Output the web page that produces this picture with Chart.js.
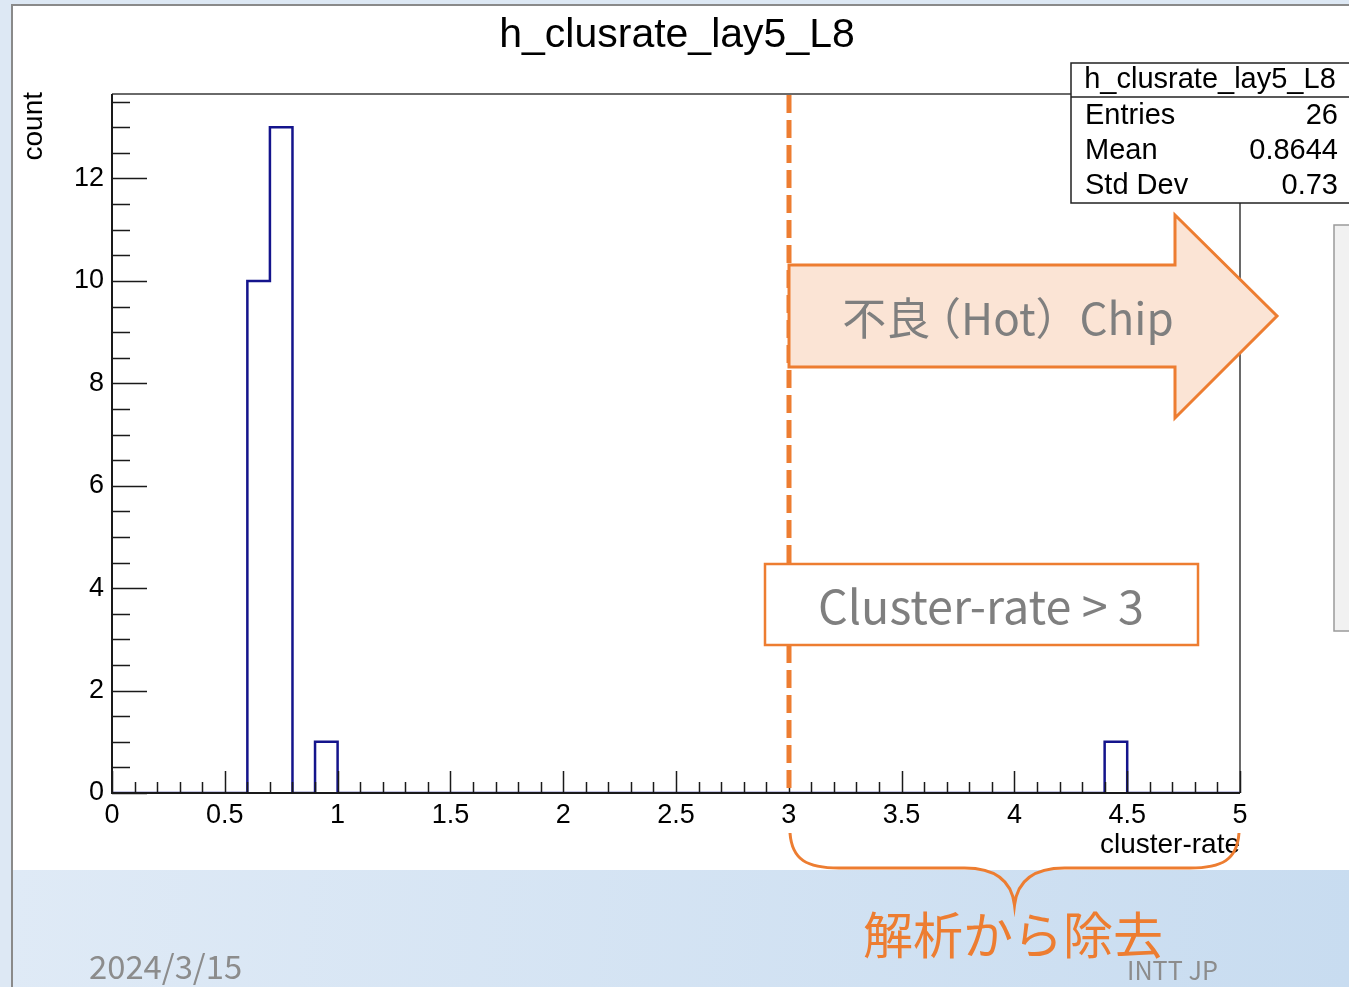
<!DOCTYPE html>
<html>
<head>
<meta charset="utf-8">
<script src="https://cdn.jsdelivr.net/npm/chart.js@4/dist/chart.umd.min.js"></script>
<style>
  html, body { margin: 0; padding: 0; width: 1349px; height: 987px; overflow: hidden; background: #dde8f4; }
  canvas { display: block; }
</style>
</head>
<body>
<canvas id="c" width="1349" height="987"></canvas>
<script>
// Histogram definition: 50 bins of width 0.1 between 0 and 5
const histName = 'h_clusrate_lay5_L8';
const xTitle = 'cluster-rate';
const yTitle = 'count';
const xRange = [0, 5];
const yRange = [0, 13.65];
const binCounts = [
  0, 0, 0, 0, 0, 0, 10, 13, 0, 1,
  0, 0, 0, 0, 0, 0, 0, 0, 0, 0,
  0, 0, 0, 0, 0, 0, 0, 0, 0, 0,
  0, 0, 0, 0, 0, 0, 0, 0, 0, 0,
  0, 0, 0, 0, 1, 0, 0, 0, 0, 0
];
// Statistics panel
const statNames = ['Entries', 'Mean', 'Std Dev'];
const statValues = ['26', '0.8644', '0.73'];
// Cut and annotation texts
const cutValue = 3;
const hotLabelParts = ['不良', '（', 'Hot）Chip'];
const cutLabel = 'Cluster-rate > 3';
const removeLabel = '解析から除去';
const dateLabel = '2024/3/15';
const footerLabel = 'INTT JP';

const ORANGE = '#ed7d31';
const ROOTFONT = '"Liberation Sans", Arial, Helvetica, sans-serif';
const JPFONT = '"Noto Sans CJK JP", "Noto Sans", sans-serif';

// Step outline points at bin edges: point i holds the content of bin i,
// drawn from its low edge to the next edge
const nBins = binCounts.length;
const binWidth = (xRange[1] - xRange[0]) / nBins;
const stepPoints = binCounts.map((c, i) => ({ x: xRange[0] + i * binWidth, y: c }));
stepPoints.push({ x: xRange[1], y: binCounts[nBins - 1] });

function fitFont(ctx, text, family, width, weight) {
  ctx.font = (weight || '') + ' 100px ' + family;
  const w = ctx.measureText(text).width;
  return 100 * width / w;
}

// Mixed Japanese/Latin label with the opening full-width bracket set tight
function drawTightLabel(ctx, parts, cx, cy, size) {
  ctx.font = size + 'px ' + JPFONT;
  const trim = 0.3 * size;
  const widths = parts.map(p => ctx.measureText(p).width);
  const total = widths.reduce((s, w) => s + w, 0) - trim;
  let x = cx - total / 2;
  ctx.textAlign = 'left';
  parts.forEach((p, i) => {
    if (p === '（') x -= trim;
    ctx.fillText(p, x, cy);
    x += widths[i];
  });
}

const slideBackground = {
  id: 'slideBackground',
  beforeDraw(chart) {
    const ctx = chart.ctx;
    ctx.save();
    ctx.fillStyle = '#dde8f4';
    ctx.fillRect(0, 0, 1349, 987);
    ctx.fillStyle = '#ffffff';
    ctx.fillRect(13, 6, 1336, 864);
    const g = ctx.createLinearGradient(13, 870, 1349, 987);
    g.addColorStop(0, '#dfeaf6');
    g.addColorStop(1, '#c8dcf0');
    ctx.fillStyle = g;
    ctx.fillRect(13, 870, 1336, 117);
    ctx.strokeStyle = '#8a8a8a';
    ctx.lineWidth = 2;
    ctx.beginPath();
    ctx.moveTo(12, 987); ctx.lineTo(12, 5); ctx.lineTo(1349, 5);
    ctx.stroke();
    // neighbouring panel at the right edge
    ctx.fillStyle = '#f1f1f1';
    ctx.fillRect(1334, 225, 30, 406);
    ctx.strokeStyle = '#9a9a9a';
    ctx.lineWidth = 1.5;
    ctx.strokeRect(1334, 225, 30, 406);
    ctx.restore();
  }
};

const rootFrame = {
  id: 'rootFrame',
  afterDatasetsDraw(chart) {
    const ctx = chart.ctx;
    const xs = chart.scales.x, ys = chart.scales.y;
    const a = chart.chartArea;
    ctx.save();
    // frame
    ctx.strokeStyle = '#3a3a3a';
    ctx.lineWidth = 1.5;
    ctx.beginPath();
    ctx.moveTo(a.left, a.top); ctx.lineTo(a.right, a.top); ctx.lineTo(a.right, a.bottom);
    ctx.stroke();
    ctx.strokeStyle = '#1a1a1a';
    ctx.lineWidth = 2;
    ctx.beginPath();
    ctx.moveTo(a.left, a.top); ctx.lineTo(a.left, a.bottom); ctx.lineTo(a.right, a.bottom);
    ctx.stroke();
    // y ticks: major every 2, minor every 0.5
    ctx.lineWidth = 1.5;
    ctx.strokeStyle = '#1a1a1a';
    ctx.beginPath();
    for (let k = 0; k * 0.5 <= yRange[1]; k++) {
      const v = k * 0.5;
      const py = Math.round(ys.getPixelForValue(v)) + 0.5;
      const len = (k % 4 === 0) ? 35 : 18;
      ctx.moveTo(a.left, py); ctx.lineTo(a.left + len, py);
    }
    // x ticks: major every 0.5, minor every 0.1
    for (let k = 0; k <= 50; k++) {
      const v = k * 0.1;
      const px = Math.round(xs.getPixelForValue(v)) + 0.5;
      const len = (k % 5 === 0) ? 22 : 11;
      ctx.moveTo(px, a.bottom); ctx.lineTo(px, a.bottom - len);
    }
    ctx.stroke();

    // histogram title
    ctx.fillStyle = '#000';
    ctx.textAlign = 'center';
    ctx.textBaseline = 'middle';
    ctx.font = '41px ' + ROOTFONT;
    ctx.fillText(histName, 677, 36);

    // axis titles
    ctx.font = '28px ' + ROOTFONT;
    ctx.textAlign = 'right';
    ctx.fillText(xTitle, a.right, 845);
    ctx.save();
    ctx.translate(34, a.top - 2);
    ctx.rotate(-Math.PI / 2);
    ctx.textAlign = 'right';
    ctx.fillText(yTitle, 0, 0);
    ctx.restore();
    ctx.restore();
  },
  afterDraw(chart) {
    const ctx = chart.ctx;
    const xs = chart.scales.x;
    const a = chart.chartArea;
    const xc = Math.round(xs.getPixelForValue(cutValue));
    const xe = xs.getPixelForValue(xRange[1]);
    ctx.save();

    // cut line
    ctx.strokeStyle = ORANGE;
    ctx.lineWidth = 5;
    ctx.setLineDash([18, 7]);
    ctx.beginPath();
    ctx.moveTo(xc, a.top + 1); ctx.lineTo(xc, a.bottom);
    ctx.stroke();
    ctx.setLineDash([]);

    // block arrow
    ctx.fillStyle = '#fbe4d5';
    ctx.strokeStyle = ORANGE;
    ctx.lineWidth = 3;
    ctx.lineJoin = 'miter';
    ctx.beginPath();
    ctx.moveTo(xc, 265);
    ctx.lineTo(1175, 265);
    ctx.lineTo(1175, 215);
    ctx.lineTo(1277, 316);
    ctx.lineTo(1175, 418);
    ctx.lineTo(1175, 367);
    ctx.lineTo(xc, 367);
    ctx.closePath();
    ctx.fill();
    ctx.stroke();
    ctx.fillStyle = '#7f7f7f';
    ctx.textBaseline = 'middle';
    drawTightLabel(ctx, hotLabelParts, 1008, 318, 44);

    // cut text box
    ctx.fillStyle = '#ffffff';
    ctx.fillRect(765, 564, 433, 81);
    ctx.strokeStyle = ORANGE;
    ctx.lineWidth = 2.5;
    ctx.strokeRect(765, 564, 433, 81);
    ctx.fillStyle = '#7f7f7f';
    ctx.textAlign = 'center';
    ctx.font = fitFont(ctx, cutLabel, JPFONT, 326).toFixed(1) + 'px ' + JPFONT;
    ctx.fillText(cutLabel, 981, 606);

    // curly brace below the excluded range
    const mid = (xc + xe) / 2;
    ctx.strokeStyle = ORANGE;
    ctx.lineWidth = 3;
    ctx.beginPath();
    ctx.moveTo(xc + 1, 833);
    ctx.bezierCurveTo(xc + 3, 860, xc + 18, 868, xc + 50, 868);
    ctx.lineTo(mid - 50, 868);
    ctx.bezierCurveTo(mid - 20, 868, mid - 3, 880, mid, 905);
    ctx.bezierCurveTo(mid + 3, 880, mid + 20, 868, mid + 50, 868);
    ctx.lineTo(xe - 50, 868);
    ctx.bezierCurveTo(xe - 18, 868, xe - 3, 860, xe - 1, 833);
    ctx.stroke();

    ctx.fillStyle = ORANGE;
    ctx.font = '50px ' + JPFONT;
    ctx.fillText(removeLabel, 1013, 935);

    // footer
    ctx.fillStyle = '#8c8c8c';
    ctx.textAlign = 'left';
    ctx.font = fitFont(ctx, dateLabel, JPFONT, 153).toFixed(1) + 'px ' + JPFONT;
    ctx.fillText(dateLabel, 89, 967);
    ctx.font = fitFont(ctx, footerLabel, JPFONT, 91).toFixed(1) + 'px ' + JPFONT;
    ctx.fillText(footerLabel, 1127, 970);

    // statistics box
    const bx = 1071, by = 63, bh = 140;
    ctx.fillStyle = '#ffffff';
    ctx.fillRect(bx, by, 300, bh);
    ctx.strokeStyle = '#222';
    ctx.lineWidth = 1.5;
    ctx.strokeRect(bx, by, 300, bh);
    ctx.beginPath();
    ctx.moveTo(bx, 97); ctx.lineTo(1349, 97);
    ctx.stroke();
    ctx.fillStyle = '#000';
    ctx.font = '29px ' + ROOTFONT;
    ctx.textAlign = 'center';
    ctx.fillText(histName, 1210, 80);
    const rows = [116, 151, 186];
    statNames.forEach((n, i) => {
      ctx.textAlign = 'left';
      ctx.fillText(n, 1085, rows[i]);
      ctx.textAlign = 'right';
      ctx.fillText(statValues[i], 1338, rows[i]);
    });
    ctx.restore();
  }
};

const trimNumber = v => String(+Number(v).toFixed(3));

new Chart(document.getElementById('c').getContext('2d'), {
  type: 'line',
  data: {
    datasets: [{
      label: histName,
      data: stepPoints,
      stepped: 'before',
      borderColor: '#14148c',
      borderWidth: 2.5,
      pointRadius: 0,
      fill: false
    }]
  },
  options: {
    responsive: false,
    animation: false,
    layout: { padding: { left: 0, top: 94, right: 109, bottom: 0 } },
    plugins: { legend: { display: false }, tooltip: { enabled: false }, title: { display: false } },
    scales: {
      x: {
        type: 'linear', min: xRange[0], max: xRange[1],
        grid: { display: false, drawTicks: false },
        border: { display: false },
        ticks: { stepSize: 0.5, includeBounds: false, autoSkip: false, maxRotation: 0, padding: 6,
                 color: '#000', font: { family: ROOTFONT, size: 27 }, callback: trimNumber },
        afterFit(s) { s.height = 194; }
      },
      y: {
        type: 'linear', min: yRange[0], max: yRange[1],
        grid: { display: false, drawTicks: false },
        border: { display: false },
        ticks: { stepSize: 2, includeBounds: false, padding: 8,
                 color: '#000', font: { family: ROOTFONT, size: 27 }, callback: trimNumber },
        afterFit(s) { s.width = 112; }
      }
    }
  },
  plugins: [slideBackground, rootFrame]
});
</script>
</body>
</html>
